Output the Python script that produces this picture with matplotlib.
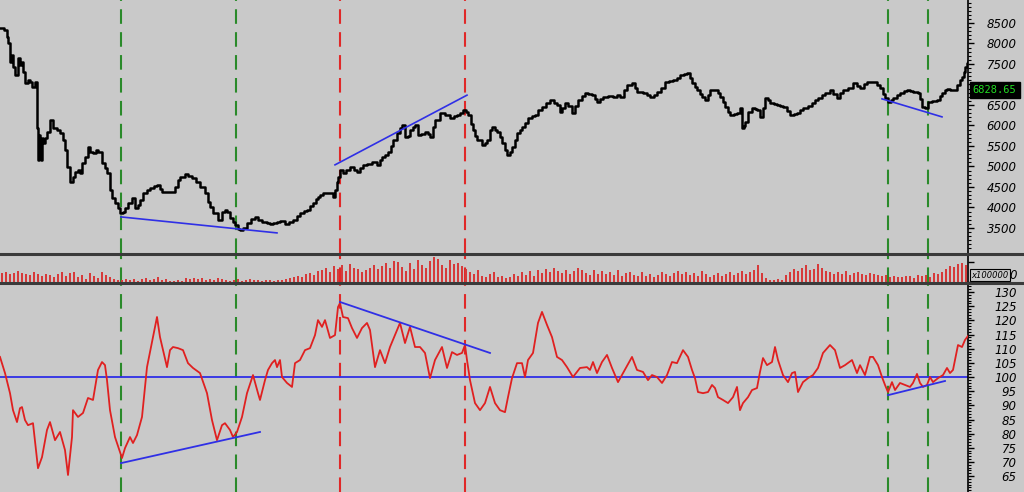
import matplotlib.pyplot as plt
import matplotlib.lines as mlines
import numpy as np

# ---- data (x = bar number) ----
price_days = [0, 4, 7, 8, 10, 12, 13, 15, 18, 20, 22, 23, 25, 28, 30, 32, 35, 37, 38, 39, 40, 41, 42, 43, 45, 47, 50, 53, 57, 60,
              63, 65, 67, 70, 73, 75, 78, 80, 82, 85, 88, 90, 93, 96, 98, 102, 105, 107, 110, 112, 115, 118, 120, 123, 125, 128, 132, 135, 138, 140,
              143, 147, 150, 154, 157, 160, 162, 166, 170, 175, 178, 180, 185, 188, 192, 196, 200, 205, 208, 210, 213, 218, 222, 225, 227, 230, 233, 235, 238, 240,
              243, 247, 251, 255, 258, 262, 267, 270, 273, 277, 280, 285, 289, 293, 297, 300, 304, 307, 310, 313, 316, 318, 320, 323, 328, 333, 335, 337, 338, 340,
              343, 346, 350, 354, 357, 360, 363, 367, 372, 377, 380, 382, 385, 388, 391, 393, 397, 400, 402, 405, 408, 410, 413, 415, 418, 421, 425, 428, 430, 433,
              435, 440, 445, 450, 454, 457, 460, 463, 466, 468, 471, 473, 475, 477, 482, 485, 487, 490, 492, 495, 497, 500, 502, 505, 507, 510, 512, 515, 517, 520,
              522, 525, 528, 532, 535, 538, 542, 546, 550, 554, 557, 560, 562, 565, 568, 572, 575, 578, 582, 585, 588, 592, 595, 597, 600, 603, 608, 613, 617, 620,
              624, 627, 632, 635, 637, 640, 643, 647, 650, 654, 657, 661, 665, 669, 673, 677, 680, 684, 687, 690, 692, 695, 697, 700, 702, 705, 708, 710, 715, 718,
              720, 723, 725, 728, 730, 734, 737, 740, 742, 744, 745, 748, 752, 755, 757, 760, 763, 765, 768, 770, 774, 777, 780, 783, 787, 790, 794, 797, 800, 803,
              808, 812, 815, 818, 822, 825, 830, 833, 837, 840, 843, 848, 853, 857, 860, 864, 867, 870, 873, 877, 880, 883, 885, 888, 891, 893, 897, 900, 904, 907,
              910, 913, 916, 918, 920, 922, 925, 928, 932, 937, 940, 942, 945, 947, 950, 953, 957, 960, 962, 964, 965, 967, 968]
price = [8380, 8330, 8160, 8010, 7550, 7720, 7430, 7230, 7650, 7480, 7550, 7300, 7040, 7110, 7060, 6940, 7060, 5940, 5160, 5770, 5650, 5160, 5700, 5570, 5700, 5840, 6130, 5940, 5890, 5820,
         5650, 5400, 4990, 4620, 4740, 4870, 4910, 4840, 5090, 5230, 5480, 5350, 5330, 5400, 5350, 5090, 4960, 4840, 4430, 4230, 4110, 3990, 3870, 3890, 3990, 4110, 4230, 3990, 4060, 4180,
         4350, 4430, 4480, 4520, 4550, 4450, 4380, 4380, 4380, 4500, 4670, 4740, 4820, 4770, 4720, 4620, 4500, 4350, 4130, 4010, 3870, 3700, 3890, 3940, 3890, 3740, 3650, 3570, 3480, 3450,
         3500, 3620, 3720, 3770, 3700, 3650, 3620, 3600, 3620, 3650, 3670, 3600, 3650, 3700, 3790, 3870, 3910, 3940, 4040, 4110, 4210, 4260, 4300, 4350, 4350, 4260, 4430, 4620, 4740, 4910,
         4840, 4910, 4990, 4910, 4870, 4960, 5040, 5060, 5110, 5040, 5160, 5230, 5280, 5350, 5500, 5650, 5820, 5940, 6010, 5720, 5740, 5890, 5960, 6010, 5770, 5790, 5840, 5790, 5720, 5960,
         6130, 6300, 6250, 6180, 6230, 6250, 6300, 6380, 6330, 6250, 6040, 5890, 5740, 5650, 5520, 5570, 5650, 5890, 5960, 5890, 5840, 5720, 5570, 5400, 5280, 5350, 5480, 5650, 5820, 5890,
         5960, 6060, 6180, 6230, 6250, 6380, 6450, 6550, 6620, 6550, 6500, 6330, 6430, 6550, 6480, 6300, 6480, 6620, 6720, 6790, 6760, 6740, 6650, 6570, 6650, 6700, 6720, 6700, 6740, 6700,
         6870, 6990, 7040, 6910, 6820, 6820, 6790, 6740, 6700, 6740, 6820, 6910, 7060, 7090, 7110, 7160, 7230, 7260, 7280, 7160, 7040, 6940, 6870, 6770, 6700, 6620, 6740, 6870, 6870, 6790,
         6700, 6570, 6450, 6330, 6260, 6280, 6300, 6430, 5940, 5990, 6090, 6330, 6430, 6400, 6380, 6210, 6430, 6670, 6620, 6550, 6530, 6500, 6480, 6450, 6350, 6260, 6280, 6300, 6380, 6430,
         6480, 6550, 6620, 6670, 6740, 6790, 6870, 6770, 6670, 6790, 6870, 6910, 7040, 6960, 6910, 7010, 7060, 7060, 7060, 6990, 6910, 6770, 6670, 6570, 6620, 6670, 6740, 6790, 6840, 6870,
         6840, 6820, 6820, 6790, 6650, 6450, 6430, 6570, 6600, 6620, 6720, 6790, 6870, 6890, 6870, 6870, 6990, 7110, 7180, 7300, 7430, 7520, 7550]

osc_days = [0, 5, 10, 13, 17, 20, 22, 25, 28, 33, 38, 42, 47, 50, 55, 60, 65, 68, 72, 73, 78, 83, 88, 93, 98, 102, 105, 107, 110, 115,
            122, 125, 130, 133, 137, 142, 147, 152, 157, 160, 163, 167, 170, 173, 178, 183, 188, 193, 200, 207, 212, 217, 222, 225, 230, 233, 237, 242, 247, 253,
            258, 260, 265, 268, 272, 275, 277, 280, 282, 287, 292, 295, 300, 305, 310, 315, 318, 322, 325, 330, 335, 338, 340, 343, 348, 352, 357, 362, 367, 370,
            375, 380, 385, 390, 397, 400, 405, 410, 415, 420, 425, 430, 435, 442, 447, 452, 457, 462, 465, 467, 470, 475, 480, 485, 490, 495, 500, 505, 508, 512,
            517, 522, 525, 528, 533, 538, 542, 547, 552, 557, 562, 567, 573, 580, 587, 590, 593, 597, 602, 607, 612, 618, 623, 632, 637, 643, 648, 652, 657, 662,
            667, 672, 677, 683, 688, 692, 695, 698, 703, 708, 712, 715, 718, 723, 728, 733, 737, 740, 743, 748, 752, 757, 760, 763, 767, 772, 775, 778, 783, 788,
            792, 795, 798, 803, 808, 813, 818, 823, 830, 835, 840, 845, 852, 857, 860, 865, 870, 873, 878, 882, 885, 888, 892, 895, 900, 905, 910, 913, 917, 920,
            923, 927, 930, 933, 938, 943, 947, 950, 953, 958, 962, 965, 968]
osc = [107.1, 101.4, 94.3, 88.3, 84.1, 89.0, 89.4, 84.8, 83.0, 83.7, 67.8, 71.7, 81.3, 84.1, 77.7, 80.6, 74.2, 65.4, 78.8, 88.3, 85.9, 87.3, 92.6, 91.9, 102.5, 105.3, 104.2, 98.9, 88.3, 78.8,
       71.4, 74.9, 78.8, 76.7, 79.5, 85.9, 103.5, 112.4, 121.2, 114.1, 109.5, 103.5, 109.5, 110.6, 110.2, 109.5, 104.9, 103.2, 101.4, 94.3, 84.8, 77.7, 83.0, 83.7, 81.3, 78.8, 80.6, 85.9, 94.3, 100.7,
       94.3, 91.9, 98.9, 102.5, 104.9, 106.0, 103.5, 106.0, 100.0, 97.9, 96.5, 104.9, 106.0, 109.5, 110.2, 114.8, 120.1, 117.7, 120.1, 113.8, 114.8, 124.7, 126.1, 121.2, 120.8, 117.3, 113.8, 117.3, 119.1, 116.6,
       103.5, 109.5, 104.9, 110.6, 116.6, 119.1, 112.0, 117.7, 110.6, 110.6, 108.5, 99.6, 106.0, 110.6, 103.2, 108.8, 107.8, 108.5, 111.3, 106.0, 98.9, 90.8, 88.3, 90.8, 96.5, 90.8, 88.3, 87.6, 92.9, 99.6,
       104.9, 104.9, 100.0, 106.0, 108.5, 119.1, 123.0, 118.4, 114.1, 107.1, 106.0, 103.5, 100.0, 103.2, 103.5, 102.5, 105.3, 101.4, 105.3, 107.8, 103.2, 98.2, 101.4, 107.1, 102.5, 101.8, 98.9, 100.7, 100.0, 97.9,
       100.7, 105.3, 104.9, 109.5, 107.1, 102.5, 99.6, 94.7, 94.3, 94.7, 97.2, 96.1, 92.9, 91.9, 90.8, 92.9, 96.5, 88.3, 90.8, 92.9, 95.4, 96.1, 101.8, 106.7, 104.2, 105.3, 110.6, 106.0, 100.7, 98.2,
       101.4, 101.8, 94.7, 98.2, 99.6, 100.7, 103.2, 108.5, 111.3, 109.5, 103.2, 104.2, 106.0, 101.4, 104.2, 100.7, 107.1, 107.1, 104.2, 100.0, 97.2, 94.7, 98.2, 95.4, 97.9, 97.2, 96.5, 97.9, 101.1, 97.9,
       96.5, 97.2, 100.0, 98.2, 99.6, 100.7, 103.2, 101.4, 102.5, 111.3, 110.6, 113.1, 114.5]

# volume, one bar every 4 bars, in units of 100000
volume = [9, 10, 8, 9, 11, 9, 8, 7, 10, 8,
          6, 8, 7, 5, 8, 10, 6, 9, 10, 5,
          7, 3, 9, 6, 4, 10, 7, 5, 3, 2,
          2, 3, 2, 3, 1, 3, 4, 2, 3, 5,
          2, 3, 1, 1, 2, 1, 4, 3, 4, 3,
          4, 2, 3, 2, 4, 3, 2, 1, 2, 3,
          1, 2, 3, 2, 2, 1, 2, 2, 1, 2,
          2, 3, 4, 5, 6, 5, 8, 9, 7, 11,
          12, 14, 10, 16, 13, 17, 11, 18, 14, 13,
          10, 12, 14, 17, 13, 16, 19, 14, 21, 20,
          15, 11, 19, 13, 22, 17, 14, 21, 25, 23,
          17, 14, 22, 18, 19, 16, 13, 10, 8, 12,
          6, 5, 8, 10, 5, 6, 4, 5, 8, 6,
          10, 7, 11, 6, 12, 9, 13, 10, 14, 11,
          9, 12, 8, 11, 14, 12, 9, 7, 12, 8,
          11, 8, 10, 7, 12, 6, 9, 10, 7, 6,
          10, 6, 8, 5, 7, 10, 8, 6, 9, 11,
          8, 10, 7, 9, 6, 11, 8, 5, 7, 9,
          6, 8, 10, 7, 9, 11, 8, 10, 12, 17,
          9, 4, 2, 2, 3, 2, 7, 10, 13, 11,
          14, 17, 12, 13, 18, 14, 11, 10, 8, 10,
          8, 11, 7, 9, 10, 8, 7, 9, 8, 7,
          6, 7, 5, 6, 5, 5, 6, 6, 4, 7,
          6, 7, 5, 9, 8, 10, 13, 16, 15, 18,
          19, 17]
vol_days = np.arange(len(volume)) * 4 + 2

green_signals = [121, 236, 888, 928]
red_signals = [340, 465]

# trend lines (start day, end day, start value, end value)
price_trends = [(121, 277, 3770, 3380), (335, 467, 5040, 6740), (882, 942, 6650, 6210)]
osc_trends = [(121, 260, 69.6, 80.6), (340, 490, 126.5, 108.5), (888, 945, 93.6, 98.6)]

last_price = "6828.65"

# ---- figure ----
bg = '#c9c9c9'
W, H = 1024, 492
fig = plt.figure(figsize=(W / 100, H / 100), dpi=100, facecolor=bg)

right = 968 / W
ax_p = fig.add_axes([0, 1 - 253 / H, right, 253 / H])
ax_v = fig.add_axes([0, 1 - 282 / H, right, 26 / H])
ax_o = fig.add_axes([0, 0, right, 207 / H])

for ax in (ax_p, ax_v, ax_o):
    ax.set_facecolor(bg)
    ax.set_xlim(0, 968)
    for s in ('left', 'top', 'bottom'):
        ax.spines[s].set_visible(False)
    ax.spines['right'].set_color('black')
    ax.spines['right'].set_linewidth(1.2)
    ax.yaxis.tick_right()
    ax.set_xticks([])
    ax.tick_params(axis='y', which='major', length=4, width=1, colors='black', direction='out')
    ax.tick_params(axis='y', which='minor', length=2.5, width=0.8, colors='black', direction='out')
    for d in green_signals:
        ax.axvline(d, color='#2a8a2a', lw=1.5, dashes=(7, 4), zorder=1)
    for d in red_signals:
        ax.axvline(d, color='#e02828', lw=1.5, dashes=(7, 4), zorder=1)

# price panel
ax_p.plot(price_days, price, drawstyle='steps-post', color='black', lw=1.8, zorder=3)
for d0, d1, v0, v1 in price_trends:
    ax_p.plot([d0, d1], [v0, v1], color='#2f2fe6', lw=1.2, zorder=4)
ax_p.set_ylim(2890, 9061)
p_ticks = np.arange(3500, 8501, 500)
ax_p.set_yticks(p_ticks)
# 7000 sits under the last-price box
ax_p.set_yticklabels(['' if t == 7000 else str(t) for t in p_ticks])
ax_p.set_yticks(np.arange(3000, 9001, 100), minor=True)

# volume panel
ax_v.bar(vol_days, volume, width=2.6, color='#d63a3a', zorder=3)
ax_v.set_ylim(0, 26)
ax_v.set_yticks([0, 20])
ax_v.set_yticklabels(['0', ''])

# oscillator panel
ax_o.plot(osc_days, osc, color='#e02020', lw=1.3, zorder=3)
ax_o.axhline(100, color='#2f2fe6', lw=1.3, zorder=2)
for d0, d1, v0, v1 in osc_trends:
    ax_o.plot([d0, d1], [v0, v1], color='#2f2fe6', lw=1.3, zorder=4)
ax_o.set_ylim(59.4, 132.5)
ax_o.set_yticks(np.arange(65, 131, 5))
ax_o.set_yticks(np.arange(60, 133, 1), minor=True)

for ax in (ax_p, ax_v, ax_o):
    for lab in ax.get_yticklabels():
        lab.set_fontstyle('italic')
        lab.set_fontsize(8.5)
        lab.set_horizontalalignment('right')
    ax.tick_params(axis='y', which='major', pad=31)
for lab in ax_v.get_yticklabels():
    lab.set_verticalalignment('bottom')

# panel separators across the full width
for y in (254, 283):
    fig.add_artist(mlines.Line2D([0, 1], [1 - y / H, 1 - y / H], color='#3a3a3a', lw=2.2))

# last price box and volume scale box
fig.text(994.5 / W, 1 - 90 / H, last_price, color='#22dd22', fontsize=7.5, family='DejaVu Sans Mono',
         ha='center', va='center',
         bbox=dict(boxstyle='square,pad=0.3', facecolor='black', edgecolor='black'))
fig.text(990 / W, 1 - 275 / H, 'x100000', fontsize=6, fontstyle='italic', ha='center', va='center',
         bbox=dict(boxstyle='square,pad=0.15', facecolor=bg, edgecolor='black', lw=0.8))

fig.savefig('out.png', dpi=100, facecolor=bg)
